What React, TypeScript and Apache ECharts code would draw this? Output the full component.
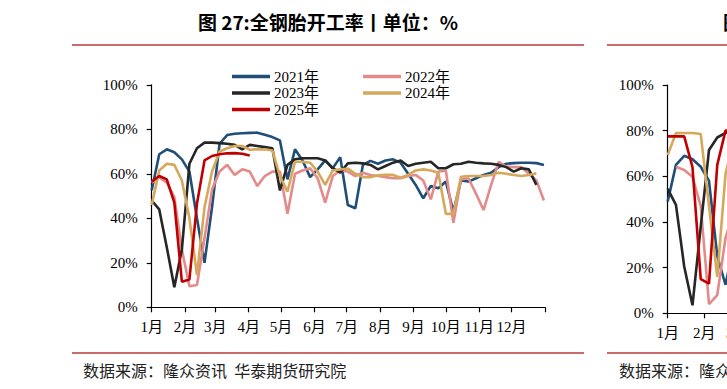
import React, { useEffect, useRef } from 'react';
import * as echarts from 'echarts';

// ---- axis definitions ----
const MONTH_STARTS = [0, 31, 59, 90, 120, 151, 181, 212, 243, 273, 304, 334];
const TICK_DAYS = [0, 31, 59, 90, 120, 151, 181, 212, 243, 273, 304, 334, 365];
const MONTH_LABELS = ['1月', '2月', '3月', '4月', '5月', '6月', '7月', '8月', '9月', '10月', '11月', '12月'];
const YEARS = ['2021年', '2022年', '2023年', '2024年', '2025年'];
const COLORS = ['#1F4E79', '#E48A8B', '#262626', '#D5A85C', '#C00000'];

// ---- left chart: 全钢胎开工率 (weekly, %) ----
const allSteel2021 = [52.6, 68.8, 71, 69.7, 66.5, 61, 40, 20, 45, 73.5, 77.4, 78, 78.2, 78.4, 78.5, 77.5, 76.5, 75, 57.5, 71, 66, 58.5, 62, 66, 62.5, 67.5, 46, 44.5, 64, 65.8, 64.5, 66, 66.5, 65, 60, 55, 49, 54.5, 53.5, 56.5, 43, 57, 56.5, 58, 59.5, 60.5, 63, 64.5, 64.8, 65, 65, 64.8, 64];
const allSteel2022 = [56, 58.5, 56, 49.5, 26, 9.5, 10, 31, 53, 61, 64, 59.5, 62, 61, 54.5, 59, 61, 61, 42, 60, 61.5, 62.5, 58, 47, 59, 61.5, 61, 59, 60.5, 59.5, 59, 58.5, 58, 58, 59, 59.5, 57, 48.5, 61, 61.4, 38, 57.5, 58, 51, 43.7, 55, 65.4, 63.2, 63, 63, 60, 57, 48];
const allSteel2023 = [48, 44, 27, 9, 26, 64.5, 71.5, 74, 74, 73.8, 73.5, 73, 71, 73, 72.5, 72, 71.5, 52.5, 64, 66.5, 67, 67, 67, 66, 62.5, 60.5, 64.7, 65, 64.7, 64, 62, 63.5, 65, 66, 63.5, 64.5, 65, 65.4, 62.5, 62.5, 64.3, 64.5, 65.4, 65, 64.7, 64.5, 64, 63, 61, 62.5, 62, 55];
const allSteel2024 = [46, 61.5, 64.5, 64, 57, 40, 14.5, 45, 61, 70, 71.5, 72.5, 72.5, 70.8, 71, 71, 70.5, 59, 52, 65.4, 65.4, 65, 61, 55, 61.5, 62, 62.3, 60, 58.5, 58.5, 59.3, 59.5, 59.5, 58.2, 59.5, 61.5, 62, 61.5, 60.5, 42, 42, 58.7, 59, 59, 59, 59.5, 60.5, 60, 59.5, 59, 59.5, 60.2];
const allSteel2025 = [56.5, 59, 57.5, 47, 11.5, 12.5, 46.5, 66, 68, 68.8, 69.2, 69.3, 69, 68.2];

// ---- right chart (partly visible, weekly, %) ----
const right2021 = [49, 65, 69, 67.5, 64.2, 58, 25, 12.5, 30];
const right2022 = [null, 64.2, 62.8, 59.8, 47, 4, 8, 33, 45];
const right2023 = [54.5, 47.5, 20.5, 3.5, 38, 71.5, 77, 79, 79.5];
const right2024 = [69.3, 79, 79, 79, 78.5, 47, 16, 61, 76];
const right2025 = [77.5, 77.5, 77.5, 64, 15, 13, 65, 80, 80];

const Y_MAX = 100;
const Y_STEP = 20;

const SERIF = "'Liberation Serif', 'Times New Roman', 'Noto Sans CJK SC', serif";
const CJK = "'Noto Sans CJK SC', sans-serif";
const RULE = '#C96B6B';

function weekly(values: (number | null)[]) {
  return values
    .map((v, i) => [i * 7, v] as [number, number | null])
    .filter((p) => p[1] !== null);
}

function makeXAxis(gridIndex: number) {
  return {
    type: 'value',
    gridIndex,
    min: 0,
    max: 365,
    axisLine: { show: true, onZero: false, lineStyle: { color: '#000', width: 1.2 } },
    axisTick: { show: true, customValues: TICK_DAYS, length: 5, lineStyle: { color: '#000', width: 1.2 } },
    axisLabel: {
      customValues: MONTH_STARTS,
      formatter: (v: number) => MONTH_LABELS[MONTH_STARTS.indexOf(v)] ?? '',
      margin: 12,
      fontSize: 15,
      fontFamily: SERIF,
      color: '#000',
    },
    splitLine: { show: false },
  };
}

function makeYAxis(gridIndex: number) {
  return {
    type: 'value',
    gridIndex,
    min: 0,
    max: Y_MAX,
    interval: Y_STEP,
    axisLine: { show: true, lineStyle: { color: '#000', width: 1.2 } },
    axisTick: { show: true, length: 5, lineStyle: { color: '#000', width: 1.2 } },
    axisLabel: { formatter: '{value}%', margin: 14, fontSize: 15, fontFamily: SERIF, color: '#000' },
    splitLine: { show: false },
  };
}

export default function App() {
  const ref = useRef<HTMLDivElement>(null);

  useEffect(() => {
    if (!ref.current) return;
    const chart = echarts.init(ref.current, null, { renderer: 'svg' });

    const leftData = [allSteel2021, allSteel2022, allSteel2023, allSteel2024, allSteel2025];
    const rightData = [right2021, right2022, right2023, right2024, right2025];

    const series: any[] = [];
    YEARS.forEach((name, i) => {
      series.push({
        name,
        type: 'line',
        xAxisIndex: 0,
        yAxisIndex: 0,
        data: weekly(leftData[i]),
        showSymbol: false,
        symbol: 'none',
        lineStyle: { width: 2.6, color: COLORS[i] },
        itemStyle: { color: COLORS[i] },
        z: 2 + i,
      });
    });
    YEARS.forEach((name, i) => {
      series.push({
        name,
        type: 'line',
        xAxisIndex: 1,
        yAxisIndex: 1,
        data: weekly(rightData[i]),
        showSymbol: false,
        symbol: 'none',
        lineStyle: { width: 2.6, color: COLORS[i] },
        itemStyle: { color: COLORS[i] },
        z: 2 + i,
      });
    });

    const legendCommon = {
      orient: 'vertical',
      icon: 'rect',
      itemWidth: 38,
      itemHeight: 3.5,
      itemGap: 1.5,
      textStyle: { fontSize: 15, fontFamily: SERIF, color: '#000', padding: [0, 0, 0, -1] },
      padding: 0,
      selectedMode: false,
    };

    chart.setOption({
      animation: false,
      backgroundColor: '#fff',
      grid: [
        { left: 151.7, top: 84.8, width: 393.3, height: 222.5, containLabel: false },
        { left: 667.7, top: 85, width: 430.7, height: 228.3, containLabel: false },
      ],
      xAxis: [makeXAxis(0), makeXAxis(1)],
      yAxis: [makeYAxis(0), makeYAxis(1)],
      legend: [
        { ...legendCommon, left: 232, top: 69, data: [YEARS[0], YEARS[2], YEARS[4]] },
        { ...legendCommon, left: 363, top: 69, data: [YEARS[1], YEARS[3]] },
      ],
      series,
      graphic: [
        {
          type: 'text',
          x: 328,
          y: 21,
          style: {
            text: '图 27:全钢胎开工率丨单位：%',
            font: `bold 19px ${CJK}`,
            fill: '#000',
            textAlign: 'center',
            textVerticalAlign: 'middle',
          },
        },
        {
          type: 'text',
          x: 723,
          y: 21,
          style: { text: '图', font: `bold 19px ${CJK}`, fill: '#000', textAlign: 'left', textVerticalAlign: 'middle' },
        },
        { type: 'line', shape: { x1: 72, y1: 45, x2: 584, y2: 45 }, style: { stroke: RULE, lineWidth: 2 } },
        { type: 'line', shape: { x1: 607, y1: 45, x2: 1100, y2: 45 }, style: { stroke: RULE, lineWidth: 2 } },
        { type: 'line', shape: { x1: 72, y1: 353, x2: 584, y2: 353 }, style: { stroke: RULE, lineWidth: 2 } },
        { type: 'line', shape: { x1: 607, y1: 353, x2: 1100, y2: 353 }, style: { stroke: RULE, lineWidth: 2 } },
        {
          type: 'text',
          x: 83,
          y: 370,
          style: { text: '数据来源：隆众资讯  华泰期货研究院', font: `16px ${CJK}`, fill: '#222', textAlign: 'left', textVerticalAlign: 'middle' },
        },
        {
          type: 'text',
          x: 619,
          y: 370,
          style: { text: '数据来源：隆众资讯  华泰期货研究院', font: `16px ${CJK}`, fill: '#222', textAlign: 'left', textVerticalAlign: 'middle' },
        },
      ],
    });

    return () => chart.dispose();
  }, []);

  return (
    <div style={{ position: 'absolute', left: 0, top: 0, width: 727, height: 389, overflow: 'hidden', background: '#fff' }}>
      <div ref={ref} style={{ width: 1140, height: 389 }} />
    </div>
  );
}
